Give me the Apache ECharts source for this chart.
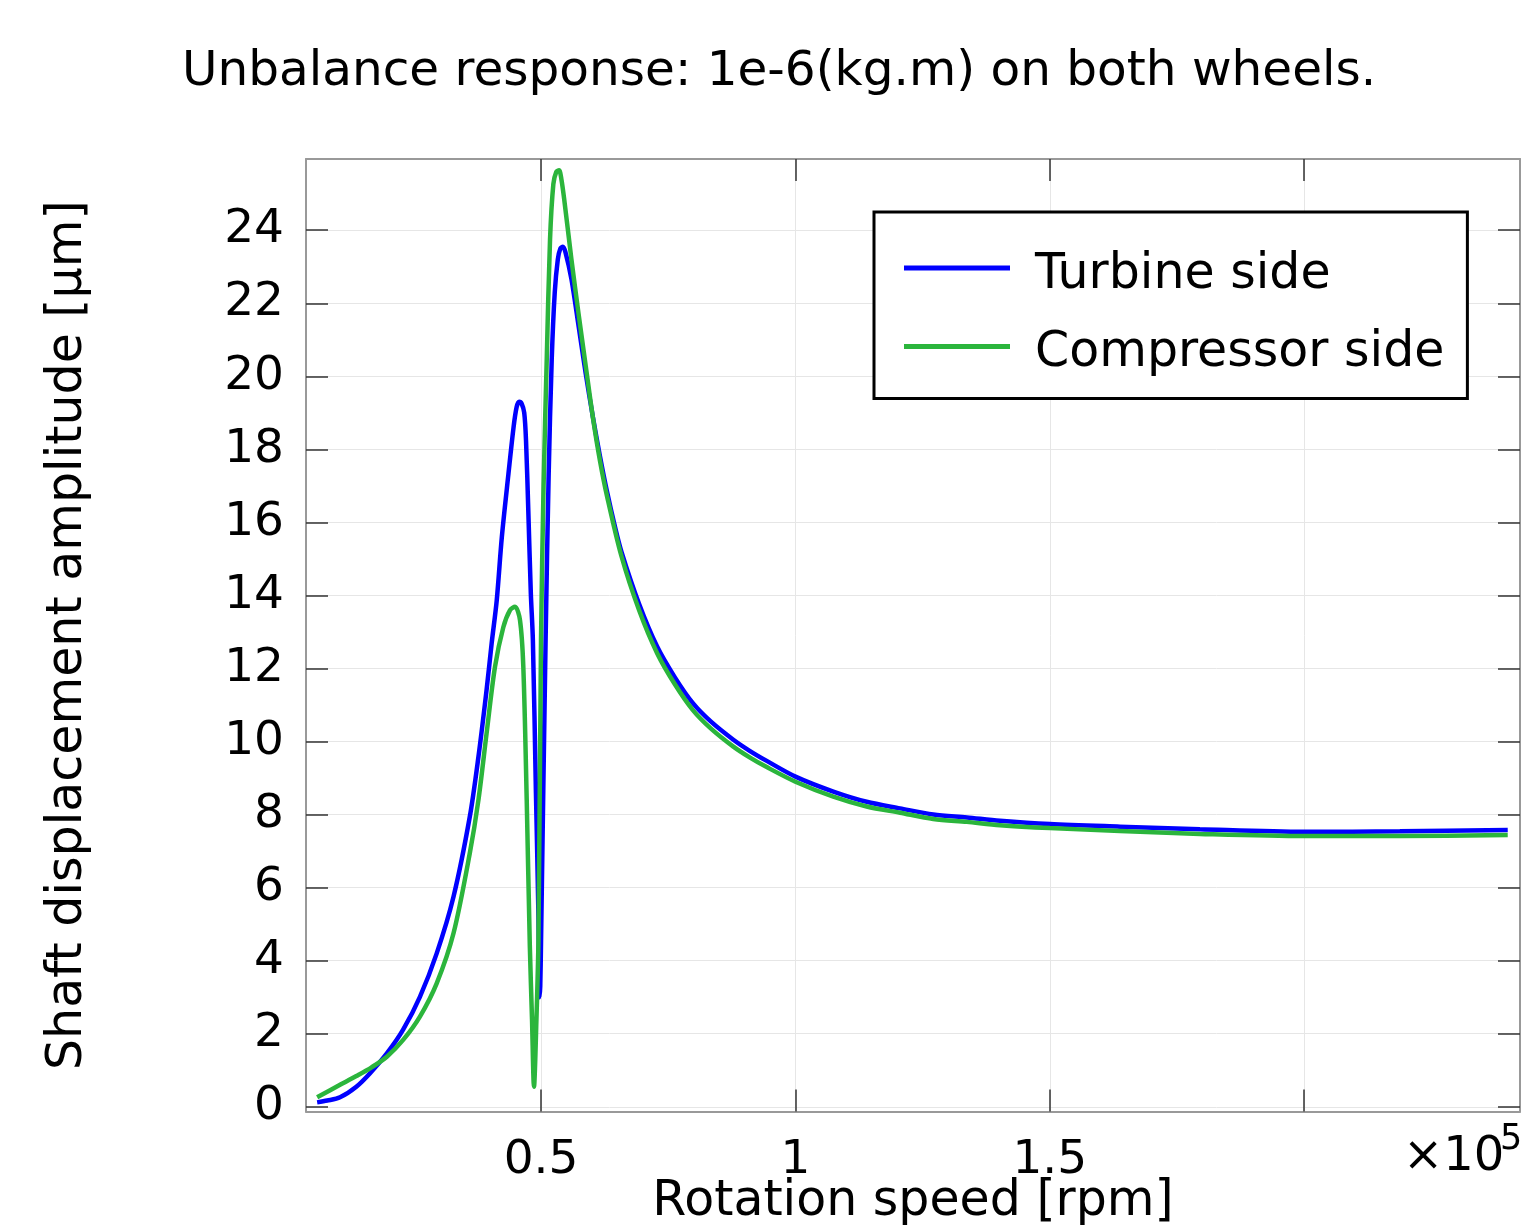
<!DOCTYPE html>
<html>
<head>
<meta charset="utf-8">
<script src="https://cdn.jsdelivr.net/npm/echarts@6/dist/echarts.min.js"></script>
<style>
  html, body { margin: 0; padding: 0; background: #fff; }
  #chart { width: 1527px; height: 1225px; }
</style>
</head>
<body>
<div id="chart"></div>
<script>
  // rotation speed [rpm] / amplitude [µm]
  const turbineSpeed = [6000, 8000, 10500, 13700, 16400, 19700, 22900, 26200, 29500, 32800,
    36000, 37700, 39300, 40300, 41300, 42300, 43600, 44600, 45200, 45700,
    46200, 46700, 47050, 47500, 48000, 48400, 49000, 49500, 49700, 49850,
    50000, 50900, 51500, 52100, 52700, 53300, 53800, 54300, 54800, 55980,
    57390, 58790, 60200, 61600, 62990, 64400, 65800, 69320, 72820, 76340,
    79850, 83350, 87800, 91080, 94360, 100000, 107450, 114000, 120560, 127100,
    133700, 140200, 150000, 163800, 179500, 200000, 218800, 240000];
  const turbineAmp = [0.12, 0.17, 0.26, 0.55, 0.92, 1.46, 2.11, 3.01, 4.2, 5.75,
    7.94, 9.58, 11.41, 12.69, 13.87, 15.6, 17.33, 18.6, 19.15, 19.3,
    19.25, 19.0, 18.25, 16.33, 14.05, 12.78, 8.6, 5.2, 3.0, 3.3,
    4.5, 12.78, 17.3, 20.44, 22.3, 23.2, 23.5, 23.55, 23.4, 22.66,
    21.37, 20.07, 18.88, 17.80, 16.83, 15.96, 15.20, 13.75, 12.60, 11.75,
    11.05, 10.55, 10.05, 9.74, 9.47, 9.04, 8.63, 8.35, 8.17, 8.0,
    7.92, 7.83, 7.74, 7.67, 7.60, 7.53, 7.54, 7.58];

  const compressorSpeed = [6000, 10500, 13700, 16700, 19700, 22900, 26200, 29500, 32800, 36000,
    37700, 39300, 40960, 42590, 43910, 44890, 45870, 46520, 47190, 47800,
    48230, 48620, 49100, 49500, 50000, 50500, 51120, 51770, 52420, 53000,
    53540, 54000, 54580, 55980, 57390, 58790, 60200, 61600, 62990, 65800,
    69320, 72820, 76340, 79850, 83350, 87800, 91080, 94360, 100000, 107450,
    114000, 120560, 127100, 133700, 140200, 150000, 163800, 179500, 200000, 218800,
    240000];
  const compressorAmp = [0.26, 0.6, 0.84, 1.08, 1.37, 1.83, 2.47, 3.38, 4.75, 6.94,
    8.4, 10.22, 12.05, 13.13, 13.6, 13.69, 13.32, 12.05, 8.4, 4.4,
    2.4, 0.55, 2.4, 4.6, 12.78, 17.0, 20.44, 23.74, 25.26, 25.6,
    25.64, 25.4, 24.82, 23.2, 21.7, 20.28, 18.87, 17.68, 16.71, 15.08,
    13.58, 12.42, 11.56, 10.86, 10.36, 9.86, 9.56, 9.30, 8.90, 8.49,
    8.22, 8.05, 7.88, 7.80, 7.71, 7.63, 7.55, 7.47, 7.41, 7.41,
    7.44];

  const xTicks = [50000, 100000, 150000, 200000];
  const xLabels = [50000, 100000, 150000];
  const yTicks = [0, 2, 4, 6, 8, 10, 12, 14, 16, 18, 20, 22, 24];

  const font = 'DejaVu Sans';
  const chart = echarts.init(document.getElementById('chart'));

  const tickStyle = { color: '#333', width: 1.5 };
  const lineStyle = { color: '#999', width: 2 };

  const option = {
    animation: false,
    backgroundColor: '#fff',
    title: {
      text: 'Unbalance response: 1e-6(kg.m) on both wheels.',
      left: 182,
      top: 48,
      padding: 0,
      textStyle: { fontFamily: font, fontSize: 48.5, fontWeight: 'normal', color: '#000' }
    },
    grid: { left: 306, right: 7, top: 159, bottom: 113.5, containLabel: false, outerBoundsMode: 'none' },
    legend: {
      orient: 'vertical',
      left: 874,
      top: 212,
      data: ['Turbine side', 'Compressor side'],
      // line sits at the top of the icon box, so the label ends up a bit lower
      icon: 'path://M0,0L106,0L106,5L0,5Z M0,19L0,19',
      itemWidth: 106,
      itemHeight: 19,
      itemGap: 28.4,
      padding: [38, 23, 20, 30],
      borderColor: '#000',
      borderWidth: 3,
      backgroundColor: '#fff',
      selectedMode: false,
      textStyle: { fontFamily: font, fontSize: 49, color: '#000', lineHeight: 50, padding: [0, 0, 0, 20] }
    },
    xAxis: [{
      type: 'value',
      min: 3810,
      max: 242410,
      name: 'Rotation speed [rpm]',
      nameLocation: 'middle',
      nameGap: 66,
      nameMoveOverlap: false,
      nameTextStyle: { fontFamily: font, fontSize: 49, color: '#000' },
      axisLine: { show: true, onZero: false, lineStyle: lineStyle },
      axisTick: { show: true, inside: true, length: 22, customValues: xTicks, lineStyle: tickStyle },
      axisLabel: {
        customValues: xLabels,
        margin: 26,
        fontFamily: font, fontSize: 47, color: '#000',
        formatter: v => String(v / 1e5)
      },
      splitLine: { show: true, lineStyle: { color: '#e6e6e6', width: 1 } }
    }, {
      type: 'value',
      position: 'top',
      min: 3810,
      max: 242410,
      axisLine: { show: true, onZero: false, lineStyle: lineStyle },
      axisTick: { show: true, inside: true, length: 22, customValues: xTicks, lineStyle: tickStyle },
      axisLabel: { show: false },
      splitLine: { show: false }
    }],
    yAxis: [{
      type: 'value',
      min: -0.13,
      max: 25.95,
      name: 'Shaft displacement amplitude [µm]',
      nameLocation: 'middle',
      nameGap: 213,
      nameTextStyle: { fontFamily: font, fontSize: 49, color: '#000' },
      axisLine: { show: true, onZero: false, lineStyle: lineStyle },
      axisTick: { show: true, inside: true, length: 22, customValues: yTicks, lineStyle: tickStyle },
      axisLabel: { customValues: yTicks, margin: 22, fontFamily: font, fontSize: 47, color: '#000' },
      splitLine: { show: true, lineStyle: { color: '#e6e6e6', width: 1 } }
    }, {
      type: 'value',
      position: 'right',
      min: -0.13,
      max: 25.95,
      axisLine: { show: true, onZero: false, lineStyle: lineStyle },
      axisTick: { show: true, inside: true, length: 22, customValues: yTicks, lineStyle: tickStyle },
      axisLabel: { show: false },
      splitLine: { show: false }
    }],
    graphic: [
      { type: 'text', left: 1403, top: 1134, style: { text: '×10', font: '48px "DejaVu Sans"', fill: '#000' } },
      { type: 'text', left: 1500, top: 1122, style: { text: '5', font: '35px "DejaVu Sans"', fill: '#000' } }
    ],
    series: [{
      name: 'Turbine side',
      type: 'line',
      xAxisIndex: 0,
      yAxisIndex: 0,
      showSymbol: false,
      smooth: 0.3,
      color: '#0000ff',
      lineStyle: { color: '#0000ff', width: 4.5 },
      data: turbineSpeed.map((s, i) => [s, turbineAmp[i]])
    }, {
      name: 'Compressor side',
      type: 'line',
      xAxisIndex: 0,
      yAxisIndex: 0,
      showSymbol: false,
      smooth: 0.3,
      color: '#2bb53c',
      lineStyle: { color: '#2bb53c', width: 4.5 },
      data: compressorSpeed.map((s, i) => [s, compressorAmp[i]])
    }]
  };
  chart.setOption(option);
</script>
</body>
</html>
